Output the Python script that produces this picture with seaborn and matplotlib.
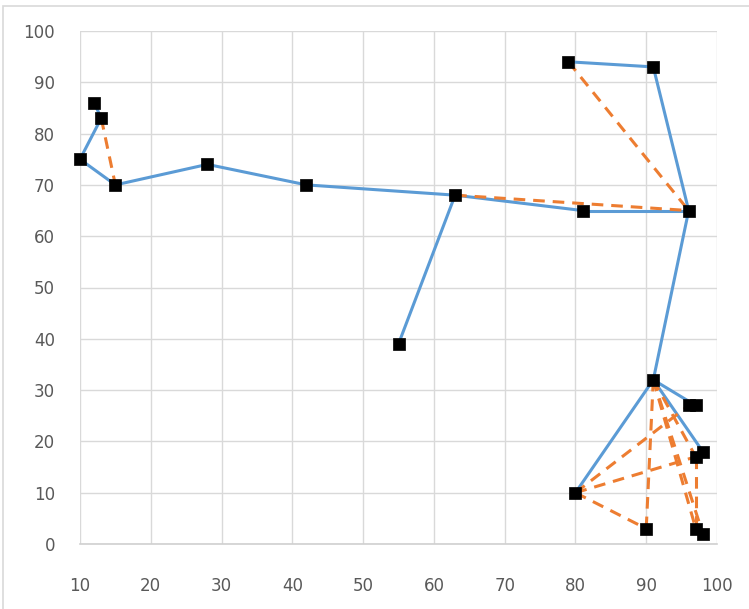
import pandas as pd
import seaborn as sns
import matplotlib.pyplot as plt
from matplotlib.patches import Rectangle

# points (x, y)
px = [10, 12, 13, 15, 28, 42, 63, 55, 81, 96, 91, 79, 91, 96, 97, 98, 97, 80, 90, 97, 98]
py = [75, 86, 83, 70, 74, 70, 68, 39, 65, 65, 93, 94, 32, 27, 27, 18, 17, 10, 3, 3, 2]

# edges as index pairs into px/py
blue_edges = [(1, 2), (2, 0), (0, 3), (3, 4), (4, 5), (5, 6), (6, 7), (6, 8), (8, 9),
              (9, 10), (10, 11), (9, 12), (12, 17), (12, 14), (12, 15)]
orange_edges = [(2, 3), (11, 9), (6, 9), (12, 18), (17, 13), (17, 16), (17, 18),
                (12, 19), (12, 20), (12, 16), (16, 19)]

blue = "#5B9BD5"
orange = "#ED7D31"


def edge_frame(edges):
    rows = []
    for k, (i, j) in enumerate(edges):
        rows.append({"edge": k, "x": px[i], "y": py[i]})
        rows.append({"edge": k, "x": px[j], "y": py[j]})
    return pd.DataFrame(rows)


sns.set_style("white")
fig = plt.figure(figsize=(7.49, 6.09), dpi=100)
ax = fig.add_axes([80 / 749, 1 - 544 / 609, 637 / 749, 513 / 609])

# outer chart border (right and bottom run off the image)
fig.patches.append(Rectangle((3 / 749, -0.1), 1.2, 1.1 - 6 / 609, transform=fig.transFigure,
                             fill=False, edgecolor="#d9d9d9", linewidth=1.2))

sns.lineplot(data=edge_frame(blue_edges), x="x", y="y", units="edge", estimator=None,
             sort=False, color=blue, linewidth=2.2, ax=ax, zorder=2)
sns.lineplot(data=edge_frame(orange_edges), x="x", y="y", units="edge", estimator=None,
             sort=False, color=orange, linewidth=2.2, linestyle=(0, (3.8, 2.6)), ax=ax, zorder=3)
sc = sns.scatterplot(x=px, y=py, marker="s", s=85, color="black", edgecolor="black",
                     linewidth=0.5, ax=ax, zorder=4)
for coll in ax.collections:
    coll.set_clip_on(False)

ax.set_xlim(10, 100)
ax.set_ylim(0, 100)
ax.set_xticks(range(10, 101, 10))
ax.set_yticks(range(0, 101, 10))
ax.grid(True, color="#d9d9d9", linewidth=1)
ax.set_axisbelow(True)
for s in ["top", "right", "left"]:
    ax.spines[s].set_visible(False)
ax.spines["bottom"].set_color("#d0d0d0")
ax.spines["bottom"].set_linewidth(1.2)
ax.tick_params(axis="x", length=0, pad=24, labelsize=12, labelcolor="#595959")
ax.tick_params(axis="y", length=0, pad=18, labelsize=12, labelcolor="#595959")
for lab in ax.get_xticklabels() + ax.get_yticklabels():
    lab.set_family("Liberation Sans Narrow")
ax.set_xlabel("")
ax.set_ylabel("")

fig.savefig("out.png", dpi=100)
